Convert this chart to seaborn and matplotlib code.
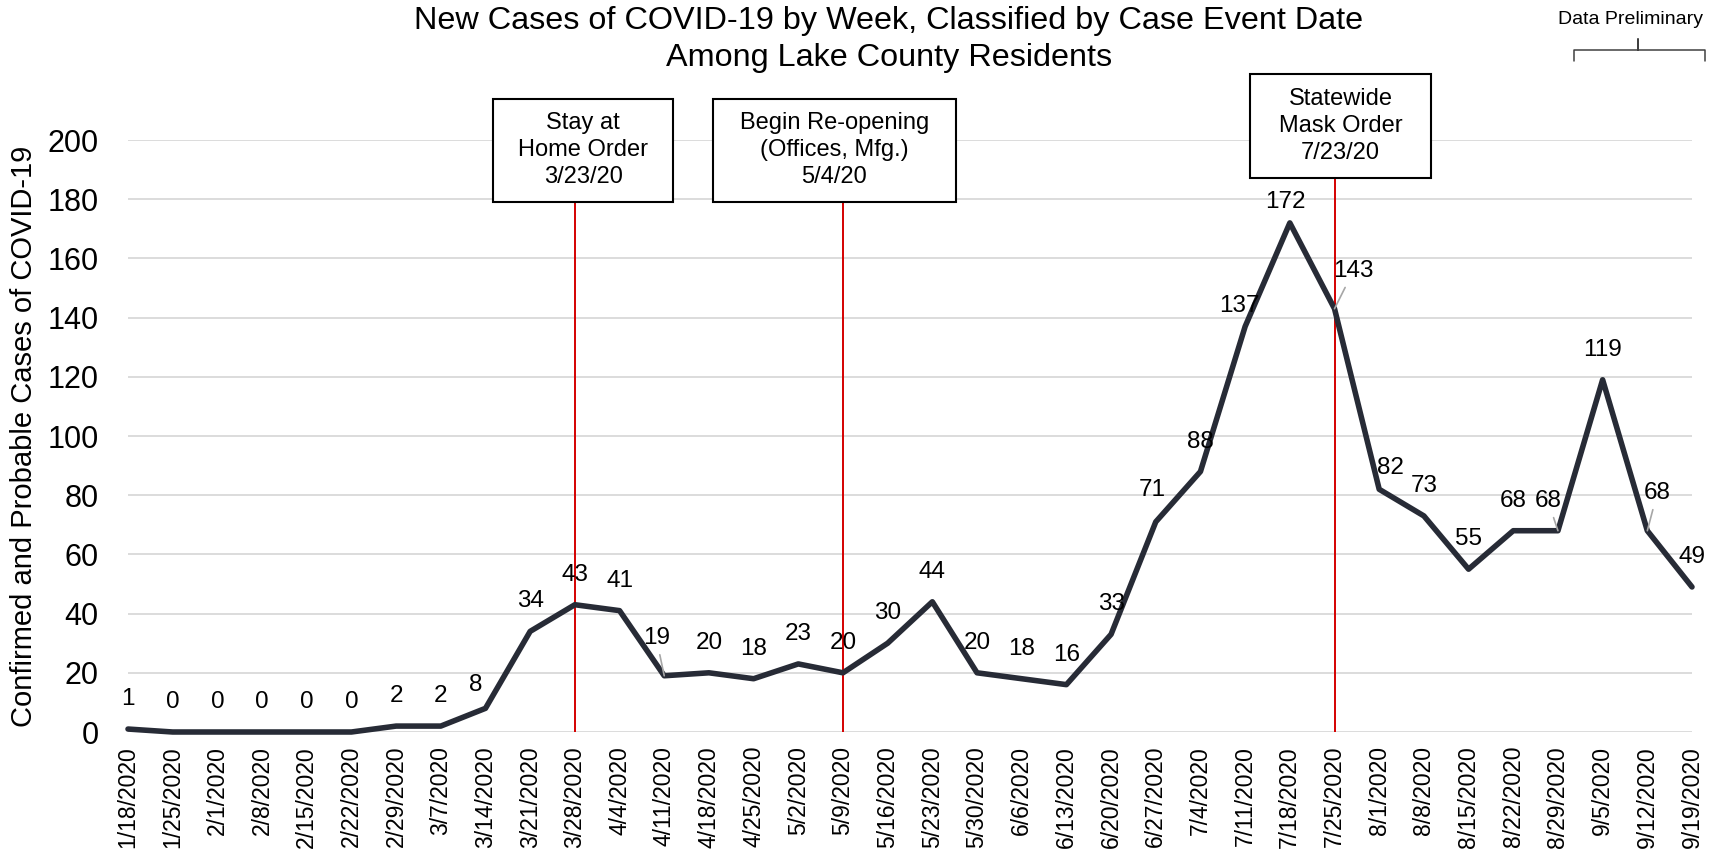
import matplotlib
matplotlib.use("Agg")
import matplotlib.pyplot as plt
from matplotlib.patches import Rectangle
import pandas as pd
import seaborn as sns

# Weekly data
weeks = ["1/18/2020", "1/25/2020", "2/1/2020", "2/8/2020", "2/15/2020",
         "2/22/2020", "2/29/2020", "3/7/2020", "3/14/2020", "3/21/2020",
         "3/28/2020", "4/4/2020", "4/11/2020", "4/18/2020", "4/25/2020",
         "5/2/2020", "5/9/2020", "5/16/2020", "5/23/2020", "5/30/2020",
         "6/6/2020", "6/13/2020", "6/20/2020", "6/27/2020", "7/4/2020",
         "7/11/2020", "7/18/2020", "7/25/2020", "8/1/2020", "8/8/2020",
         "8/15/2020", "8/22/2020", "8/29/2020", "9/5/2020", "9/12/2020",
         "9/19/2020"]
cases = [1, 0, 0, 0, 0, 0, 2, 2, 8, 34, 43, 41, 19, 20, 18, 23, 20, 30, 44,
         20, 18, 16, 33, 71, 88, 137, 172, 143, 82, 73, 55, 68, 68, 119, 68, 49]

event_weeks = ["3/28/2020", "5/9/2020", "7/25/2020"]
event_texts = ["Stay at\nHome Order\n3/23/20",
               "Begin Re-opening\n(Offices, Mfg.)\n5/4/20",
               "Statewide\nMask Order\n7/23/20"]

yticks = list(range(0, 201, 20))

# label nudges in pixels (dx, dy up), and which labels get a leader line
label_shift = {8: (-10, 23), 12: (-8, 38), 23: (-4, 32), 25: (-6, 20),
               26: (-4, 21), 27: (19, 38), 28: (11, 21), 32: (-10, 30),
               34: (10, 38)}
leaders = [12, 27, 32, 34]

# box geometry relative to the event line (x offsets in weeks, y in data)
box_geom = [(-1.83, 4.03, 179, 35), (-2.91, 5.44, 179, 35),
            (-1.89, 4.05, 187.2, 35)]

sns.set_theme(style="white")
plt.rcParams["font.family"] = ["Liberation Sans", "DejaVu Sans"]

df = pd.DataFrame({"pos": range(len(weeks)), "week": weeks, "cases": cases})

fig = plt.figure(figsize=(17.34, 8.58), dpi=100)
ax = fig.add_axes([128 / 1734, 1 - 732 / 858, (1692 - 128) / 1734, (732 - 140) / 858])

ax.set_ylim(0, 200)
ax.set_xlim(0, len(weeks) - 1)
ax.set_yticks(yticks)
ax.yaxis.grid(True, color="#D9D9D9", lw=1.3)
ax.set_axisbelow(True)
for s in ax.spines.values():
    s.set_visible(False)

line_color = "#272B36"
sns.lineplot(data=df, x="pos", y="cases", color=line_color, lw=4, ax=ax,
             clip_on=False, zorder=3)

ax.set_xticks(df["pos"])
ax.set_xticklabels(weeks, rotation=90, fontsize=16.5, color="black")
ax.tick_params(axis="x", length=0, pad=10)
ax.tick_params(axis="y", length=0, pad=21, labelsize=22, labelcolor="black")
ax.set_xlabel("")
ax.set_ylabel("Confirmed and Probable Cases of COVID-19", fontsize=21,
              color="black", labelpad=7)

# data labels
for i, v in enumerate(cases):
    dx, dy = label_shift.get(i, (0, 30))
    kw = {}
    if i in leaders:
        kw["arrowprops"] = dict(arrowstyle="-", color="#A6A6A6", lw=1.2,
                                shrinkA=2, shrinkB=0)
    ax.annotate(str(v), xy=(i, v), xytext=(dx, dy), textcoords="offset pixels",
                ha="center", va="center", fontsize=17.5, color="black",
                annotation_clip=False, zorder=4, **kw)

# event lines and boxes
for wk, txt, (bx, bw, by, bh) in zip(event_weeks, event_texts, box_geom):
    xi = weeks.index(wk)
    ax.vlines(xi, 0, by, color="#D40000", lw=1.4, zorder=2, clip_on=False)
    ax.add_patch(Rectangle((xi + bx, by), bw, bh, facecolor="white",
                           edgecolor="black", lw=1.5, clip_on=False, zorder=5))
    ax.text(xi + bx + bw / 2, by + bh / 2, txt, ha="center", va="center",
            fontsize=17, linespacing=1.3, color="black", zorder=6,
            clip_on=False)

# preliminary-data bracket
bl, bm, br = 32.36, 33.79, 35.3
ax.plot([bl, bl, bm, bm, bm, br, br], [226.7, 230.4, 230.4, 234.1, 230.4, 230.4, 226.7],
        color="#404040", lw=1.1, clip_on=False)
fig.text(1630 / 1734, 1 - 20 / 858, "Data Preliminary", ha="center", va="center",
         fontsize=14, color="black")

# title
fig.text(889 / 1734, 1 - 21 / 858, "New Cases of COVID-19 by Week, Classified by Case Event Date",
         ha="center", va="center", fontsize=23.3, color="black")
fig.text(889 / 1734, 1 - 58 / 858, "Among Lake County Residents",
         ha="center", va="center", fontsize=23.3, color="black")

fig.savefig("out.png", dpi=100, facecolor="white")
